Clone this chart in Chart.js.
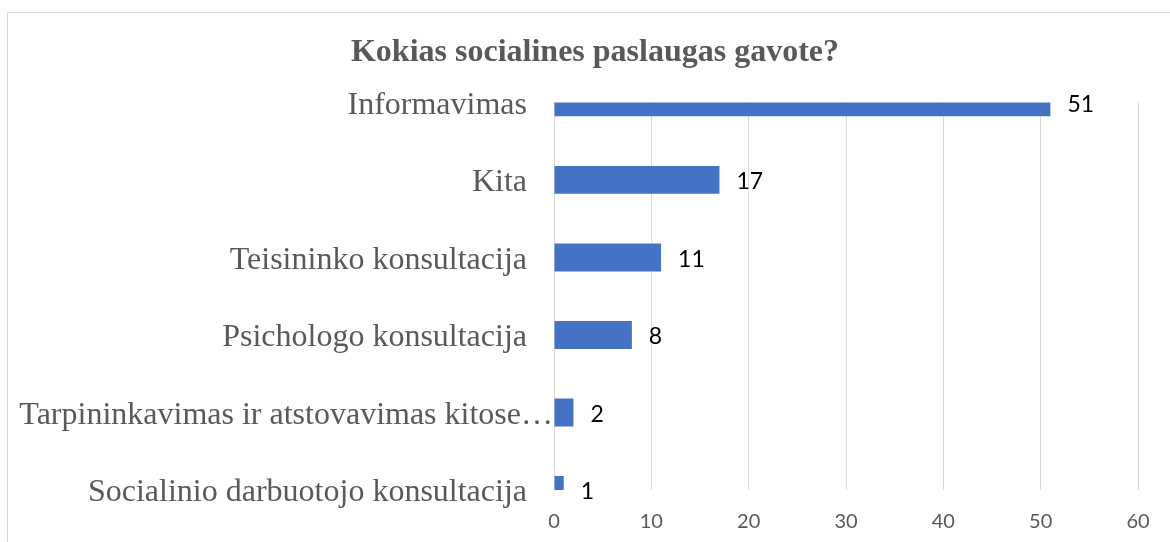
<!DOCTYPE html>
<html>
<head>
<meta charset="utf-8">
<script src="https://cdn.jsdelivr.net/npm/chart.js@4/dist/chart.umd.min.js"></script>
<style>
  html, body { margin: 0; padding: 0; background: #fff; }
  body { width: 1170px; height: 542px; position: relative; overflow: hidden; }
  #frame { position: absolute; left: 7px; top: 12px; width: 1200px; height: 600px;
           border: 1px solid #d9d9d9; box-sizing: border-box; }
  #chart { position: absolute; left: 0; top: 0; }
</style>
</head>
<body>
<div id="frame"></div>
<canvas id="chart" width="1170" height="542"></canvas>
<script>
// ── Data ────────────────────────────────────────────────────────
const categories = [
    'Informavimas',
    'Kita',
    'Teisininko konsultacija',
    'Psichologo konsultacija',
    'Tarpininkavimas ir atstovavimas kitose…',
    'Socialinio darbuotojo konsultacija'
];
const counts = [51, 17, 11, 8, 2, 1];
const xTicks = [0, 10, 20, 30, 40, 50, 60];
const titleText = 'Kokias socialines paslaugas gavote?';

const GREY = '#595959';
const GRID = '#d9d9d9';
const SANS = "Lato, 'Open Sans', sans-serif";
const SERIF = "'Liberation Serif', 'Times New Roman', serif";

// value labels to the right of each bar
const valueLabels = {
    id: 'valueLabels',
    afterDatasetsDraw(chart) {
        const { ctx } = chart;
        const meta = chart.getDatasetMeta(0);
        ctx.save();
        ctx.font = '23px ' + SANS;
        ctx.fillStyle = '#000';
        ctx.textAlign = 'left';
        ctx.textBaseline = 'middle';
        meta.data.forEach((bar, i) => {
            ctx.fillText(String(counts[i]), bar.x + 17, bar.y + 2);
        });
        ctx.restore();
    }
};

// category labels: drawn by hand so the cut-off long label can run up to the axis like in Excel
const categoryLabels = {
    id: 'categoryLabels',
    afterDraw(chart) {
        const { ctx, chartArea } = chart;
        const y = chart.scales.y;
        ctx.save();
        ctx.font = '32px ' + SERIF;
        ctx.fillStyle = GREY;
        ctx.textAlign = 'right';
        ctx.textBaseline = 'middle';
        categories.forEach((c, i) => {
            const truncated = c.endsWith('…');
            const x = truncated ? chartArea.left - 1 : chartArea.left - 27;
            ctx.fillText(c, x, y.getPixelForValue(i) + 3);
        });
        ctx.restore();
    }
};

new Chart(document.getElementById('chart'), {
    type: 'bar',
    data: {
        labels: categories,
        datasets: [{
            data: counts,
            backgroundColor: '#4472C4',
            borderWidth: 0,
            categoryPercentage: 0.4,
            barPercentage: 0.9,
            clip: 0
        }]
    },
    options: {
        indexAxis: 'y',
        responsive: false,
        animation: false,
        devicePixelRatio: 1,
        layout: { padding: { left: 52, right: 32, top: 0, bottom: 0 } },
        plugins: {
            legend: { display: false },
            tooltip: { enabled: false },
            title: {
                display: true,
                text: titleText,
                color: GREY,
                font: { family: SERIF, size: 32, weight: 'bold', lineHeight: 1.2 },
                padding: { top: 34, bottom: 30 }
            }
        },
        scales: {
            x: {
                min: 0, max: 60,
                afterBuildTicks: (s) => { s.ticks = xTicks.map(v => ({ value: v })); },
                afterFit: (s) => { s.height = 52; },
                grid: { color: GRID, drawTicks: false },
                border: { display: false },
                ticks: { color: GREY, padding: 20, font: { family: SANS, size: 20 } }
            },
            y: {
                offset: false,
                afterFit: (s) => { s.width = 502; },
                grid: { display: false, drawTicks: false },
                border: { display: true, color: GRID },
                ticks: { display: false }
            }
        }
    },
    plugins: [valueLabels, categoryLabels]
});
</script>
</body>
</html>
